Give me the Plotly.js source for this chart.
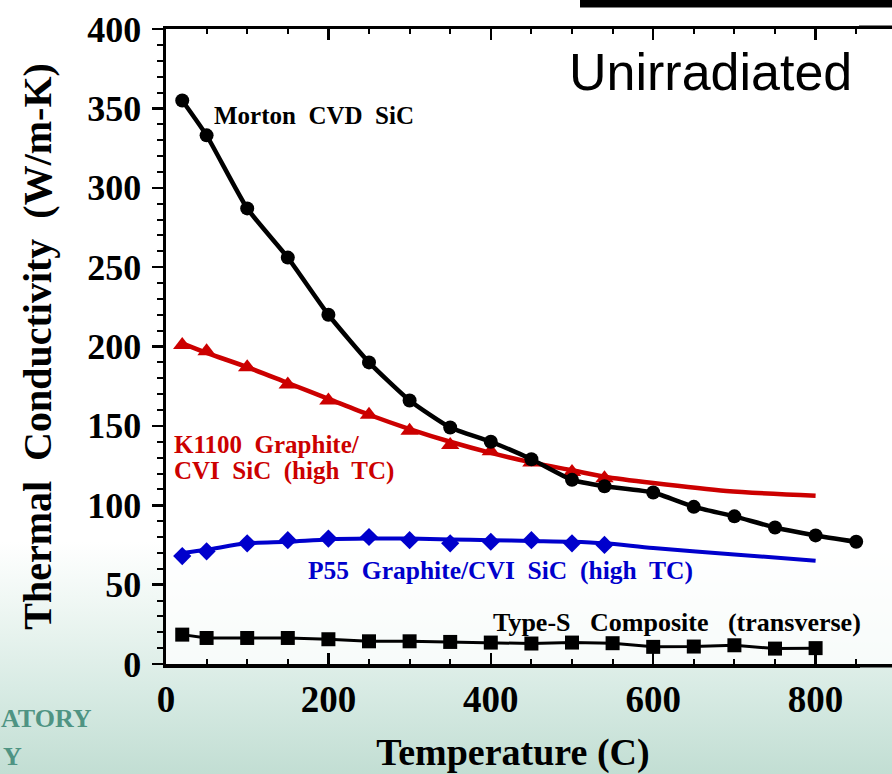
<!DOCTYPE html>
<html>
<head>
<meta charset="utf-8">
<script src="https://cdn.plot.ly/plotly-3.0.1.min.js"></script>
<style>
  html, body { margin: 0; padding: 0; overflow: hidden; }
  body {
    width: 892px; height: 774px;
    background: linear-gradient(to bottom, #ffffff 0%, #ffffff 70%, #edf6f2 79%, #d8ebe4 89%, #c2ded3 100%);
  }
  #chart { width: 892px; height: 774px; }
</style>
</head>
<body>
<div id="chart"></div>
<script>
// ---- Data ----
const mortonT = [20, 50, 100, 150, 200, 250, 300, 350, 400, 450, 500, 540, 600, 650, 700, 750, 800, 850];
const mortonK = [355, 333, 287, 256, 220, 190, 166, 149, 140, 129, 116, 112, 108, 99, 93, 86, 81, 77];

const k1100T = [20, 50, 100, 150, 200, 250, 300, 350, 400, 450, 500, 540];
const k1100K = [201, 197, 187, 176, 166, 157, 147, 138, 134, 127, 121, 117];
const k1100FitT = [20, 50, 100, 150, 200, 250, 300, 350, 400, 450, 500, 540, 600, 690, 800];
const k1100FitK = [202, 196, 187, 177, 167, 157, 148, 140, 133, 127, 122, 118, 114, 109, 106];

const p55T = [20, 50, 100, 150, 200, 250, 300, 350, 400, 450, 500, 540];
const p55K = [68, 71, 76, 78, 79, 80, 78, 76, 77, 78, 76, 75];
const p55FitT = [20, 50, 100, 150, 200, 250, 300, 350, 400, 450, 500, 540, 600, 700, 800];
const p55FitK = [70, 72, 76, 77, 78.5, 79, 79, 78.5, 78, 77.5, 77, 76, 73, 69, 65];

const typeST = [20, 50, 100, 150, 200, 250, 300, 350, 400, 450, 500, 550, 600, 650, 700, 750, 800];
const typeSK = [18.5, 16.4, 16.4, 16.4, 15.6, 14.3, 14.3, 13.9, 13.5, 12.9, 13.5, 13.1, 10.8, 11.0, 11.8, 9.7, 10.0];

const xTicks = [0, 200, 400, 600, 800];
const yTicks = [0, 50, 100, 150, 200, 250, 300, 350, 400];

const RED = '#cc0000';
const BLUE = '#0000cc';
const LOGO = '#4f9483';
const SERIF = '"Liberation Serif", "Times New Roman", Times, serif';
const PLOTBG = 'rgba(255,255,255,0.75)';

const traces = [
  { x: typeST, y: typeSK, mode: 'lines+markers', name: 'Type-S Composite (transverse)',
    line: { color: '#000', width: 3 }, marker: { symbol: 'square', size: 14, color: '#000' }, cliponaxis: false },
  { x: p55FitT, y: p55FitK, mode: 'lines', name: 'P55 fit', showlegend: false,
    line: { color: BLUE, width: 4, shape: 'spline', smoothing: 0.8 } },
  { x: p55T, y: p55K, mode: 'markers', name: 'P55 Graphite/CVI SiC (high TC)',
    marker: { symbol: 'diamond', size: 14, color: BLUE } },
  { x: k1100FitT, y: k1100FitK, mode: 'lines', name: 'K1100 fit', showlegend: false,
    line: { color: RED, width: 4.5, shape: 'spline', smoothing: 0.8 } },
  { x: k1100T, y: k1100K, mode: 'markers', name: 'K1100 Graphite/CVI SiC (high TC)',
    marker: { symbol: 'triangle-up', size: 16, color: RED } },
  { x: mortonT, y: mortonK, mode: 'lines+markers', name: 'Morton CVD SiC',
    line: { color: '#000', width: 4.5, shape: 'spline', smoothing: 0.5 },
    marker: { symbol: 'circle', size: 14, color: '#000' }, cliponaxis: false }
];

// Frame geometry (pixels of the 892x774 picture)
const W = 892, H = 774;
const L = 166, T = 28.5, B = 664, XEND = 860;
const plotW = W - L, plotH = B - T;
const pxPerX = 0.812, pxPerY = plotH / 400;
const px2x = px => (px - L) / pxPerX;
const py2y = py => (B - py) / pxPerY;
const px2paper = px => (px - L) / plotW;
const py2paper = py => (B - py) / plotH;

const layout = {
  width: W, height: H,
  margin: { l: L, r: 0, t: T, b: H - B, pad: 0 },
  paper_bgcolor: 'rgba(0,0,0,0)',
  plot_bgcolor: PLOTBG,
  showlegend: false,
  font: { family: SERIF, color: '#000' },
  xaxis: {
    domain: [0, (XEND - L) / plotW],
    range: [0, (XEND - L) / pxPerX],
    tickvals: xTicks, ticktext: xTicks.map(String),
    ticks: 'inside', ticklen: 11, tickwidth: 2.5, tickcolor: '#000',
    minor: { dtick: 50, tick0: 0, ticks: 'inside', ticklen: 5, tickwidth: 2, tickcolor: '#000' },
    showline: true, linewidth: 3.5, linecolor: '#000', mirror: 'ticks',
    showgrid: false, zeroline: false,
    tickfont: { family: SERIF, size: 37, weight: 'bold' },
    ticklabelstandoff: 0,
    title: { text: 'Temperature (C)', font: { family: SERIF, size: 38, weight: 'bold' }, standoff: 28 }
  },
  yaxis: {
    range: [0, 400],
    tickvals: yTicks, ticktext: yTicks.map(String),
    ticks: 'outside', ticklen: 11, tickwidth: 2.5, tickcolor: '#000',
    minor: { dtick: 10, tick0: 0, ticks: 'outside', ticklen: 6, tickwidth: 2, tickcolor: '#000' },
    showline: true, linewidth: 3.5, linecolor: '#000', mirror: false,
    showgrid: false, zeroline: false,
    tickfont: { family: SERIF, size: 36, weight: 'bold' },
    ticklabelstandoff: 3,
    title: { text: 'Thermal\u00a0 Conductivity\u00a0 (W/m-K)', font: { family: SERIF, size: 40, weight: 'bold' }, standoff: 24 }
  },
  shapes: [
    // plot background continuing to the right edge of the picture
    { type: 'rect', xref: 'paper', yref: 'paper', layer: 'below', x0: px2paper(XEND), x1: 1.01,
      y0: 0, y1: 1, fillcolor: PLOTBG, line: { width: 0 } },
    // black bar at the top edge of the picture
    { type: 'rect', xref: 'paper', yref: 'paper', x0: px2paper(580), x1: 1.01,
      y0: py2paper(7), y1: py2paper(-2), fillcolor: '#000', line: { width: 0 } },
    // frame lines continuing to the right edge of the picture
    { type: 'line', xref: 'paper', yref: 'paper', x0: px2paper(XEND - 1), x1: 1.01, y0: py2paper(T - 1.75), y1: py2paper(T - 1.75),
      line: { color: '#000', width: 3.5 } },
    { type: 'line', xref: 'paper', yref: 'paper', x0: px2paper(XEND - 1), x1: 1.01, y0: py2paper(B + 1.75), y1: py2paper(B + 1.75),
      line: { color: '#000', width: 3.5 } }
  ],
  annotations: [
    { text: 'Unirradiated', xref: 'x', yref: 'y', x: px2x(567), y: py2y(72),
      xanchor: 'left', yanchor: 'middle', showarrow: false,
      font: { family: '"Liberation Sans", Arial, sans-serif', size: 52, color: '#000' } },
    { text: 'Morton\u00a0 CVD\u00a0 SiC', xref: 'x', yref: 'y', x: px2x(212), y: py2y(115),
      xanchor: 'left', yanchor: 'middle', showarrow: false,
      font: { family: SERIF, size: 25, weight: 'bold', color: '#000' } },
    { text: 'K1100\u00a0 Graphite/', xref: 'x', yref: 'y', x: px2x(172), y: py2y(444),
      xanchor: 'left', yanchor: 'middle', showarrow: false,
      font: { family: SERIF, size: 25, weight: 'bold', color: RED } },
    { text: 'CVI\u00a0 SiC\u00a0 (high\u00a0 TC)', xref: 'x', yref: 'y', x: px2x(172), y: py2y(471),
      xanchor: 'left', yanchor: 'middle', showarrow: false,
      font: { family: SERIF, size: 25, weight: 'bold', color: RED } },
    { text: 'P55\u00a0 Graphite/CVI\u00a0 SiC\u00a0 (high\u00a0 TC)', xref: 'x', yref: 'y', x: px2x(306), y: py2y(570),
      xanchor: 'left', yanchor: 'middle', showarrow: false,
      font: { family: SERIF, size: 25.5, weight: 'bold', color: BLUE } },
    { text: 'Type-S\u00a0\u00a0 Composite\u00a0\u00a0 (transverse)', xref: 'x', yref: 'y', x: px2x(491), y: py2y(622.5),
      xanchor: 'left', yanchor: 'middle', showarrow: false,
      font: { family: SERIF, size: 26, weight: 'bold', color: '#000' } },
    // background logo fragments (bottom left)
    { text: 'ATORY', xref: 'paper', yref: 'paper', x: px2paper(94), y: py2paper(719),
      xanchor: 'right', yanchor: 'middle', showarrow: false,
      font: { family: SERIF, size: 26, weight: 'bold', color: LOGO } },
    { text: 'Y', xref: 'paper', yref: 'paper', x: px2paper(1), y: py2paper(757),
      xanchor: 'left', yanchor: 'middle', showarrow: false,
      font: { family: SERIF, size: 26, weight: 'bold', color: LOGO } }
  ]
};

Plotly.newPlot('chart', traces, layout, { displayModeBar: false, staticPlot: true });
</script>
</body>
</html>
